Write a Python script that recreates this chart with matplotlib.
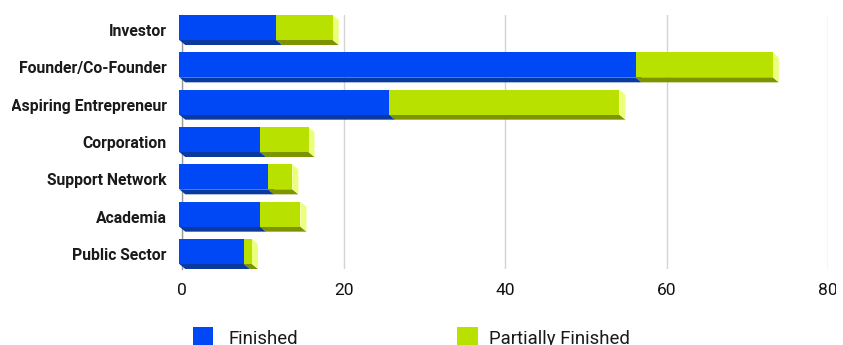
import matplotlib
matplotlib.use("Agg")
import matplotlib.pyplot as plt
from matplotlib.patches import Polygon, Rectangle
from matplotlib.transforms import Bbox, TransformedBbox

# ---- data -------------------------------------------------------------
categories = ["Investor", "Founder/Co-Founder", "Aspiring Entrepreneur",
              "Corporation", "Support Network", "Academia", "Public Sector"]
finished = [12, 56.5, 26, 10, 11, 10, 8]
partially_finished = [7, 17, 28.5, 6, 3, 5, 1]
x_ticks = [0, 20, 40, 60, 80]
series_names = ["Finished", "Partially Finished"]

# ---- style ------------------------------------------------------------
BLUE = ("#0048f5", "#0b3a9e", "#5a86ff")      # front, bottom, side
GREEN = ("#b9e100", "#7e9300", "#ecff7d")
LABEL_FONT = "Roboto"

W, H = 843, 345
fig = plt.figure(figsize=(W / 100, H / 100), dpi=100)
ax = fig.add_axes([182.3 / W, (H - 269) / H, 646 / W, 254 / H])
ax.set_xlim(0, 80)
ax.set_ylim(6.402, -0.402)

# pixel sizes of the 3D extrusion converted to data units
px_x = 646 / 80.0
px_y = 254 / 6.804
dx = 6 / px_x
dy = 5 / px_y
front_h = 25 / px_y
half = 15 / px_y


def box(c, x0, x1, colors):
    front, bottom, side = colors
    xf0, xf1 = x0 - dx / 2, x1 - dx / 2
    top = c - half
    bot = top + front_h
    ax.add_patch(Polygon([(xf0, bot), (xf1, bot), (xf1 + dx, bot + dy), (xf0 + dx, bot + dy)],
                         closed=True, facecolor=bottom, edgecolor="none", clip_on=False, zorder=2))
    ax.add_patch(Polygon([(xf1, top), (xf1 + dx, top + dy), (xf1 + dx, bot + dy), (xf1, bot)],
                         closed=True, facecolor=side, edgecolor="none", clip_on=False, zorder=2))
    ax.barh(top + front_h / 2, x1 - x0, left=xf0, height=front_h, color=front,
            edgecolor="none", clip_on=False, zorder=3)


for i, (f, p) in enumerate(zip(finished, partially_finished)):
    box(i, 0, f, BLUE)
    box(i, f, f + p, GREEN)

# ---- axes -------------------------------------------------------------
ax.set_xticks(x_ticks)
ax.set_xticklabels([str(t) for t in x_ticks])
ax.set_yticks(range(len(categories)))
ax.set_yticklabels(categories)
ax.grid(axis="x", color="#d4d4d4", linewidth=1)
ax.set_axisbelow(True)
for s in ("top", "right", "bottom"):
    ax.spines[s].set_visible(False)
ax.spines["left"].set_color("#9a9a9a")
ax.spines["left"].set_linewidth(1)
ax.spines["left"].set_zorder(1)
ax.tick_params(axis="both", length=0)
ax.tick_params(axis="y", pad=11.2)
ax.tick_params(axis="x", pad=10)

clip = TransformedBbox(Bbox.from_extents(12 / W, 0, 836 / W, 1), fig.transFigure)
for lab in ax.get_yticklabels():
    lab.set_fontfamily(LABEL_FONT)
    lab.set_fontweight("bold")
    lab.set_fontsize(11.3)
    lab.set_color("#1a1a1a")
    lab.set_clip_box(clip)
    lab.set_clip_on(True)
for lab in ax.get_xticklabels():
    lab.set_fontfamily(LABEL_FONT)
    lab.set_fontsize(12.5)
    lab.set_color("#111111")
    lab.set_clip_box(clip)
    lab.set_clip_on(True)

# ---- legend -----------------------------------------------------------
legend_items = [(series_names[0], BLUE[0], 192.7, 228.3),
                (series_names[1], GREEN[0], 457.0, 489.3)]
for name, col, sx, tx in legend_items:
    fig.patches.append(Rectangle((sx / W, (H - 348) / H), 20.6 / W, 20.6 / H,
                                 transform=fig.transFigure, facecolor=col,
                                 edgecolor="none"))
    fig.text(tx / W, (H - 343.5) / H, name, fontfamily=LABEL_FONT, fontsize=13.4,
             color="#1a1a1a", va="baseline", ha="left")

fig.savefig("out.png", dpi=100)
